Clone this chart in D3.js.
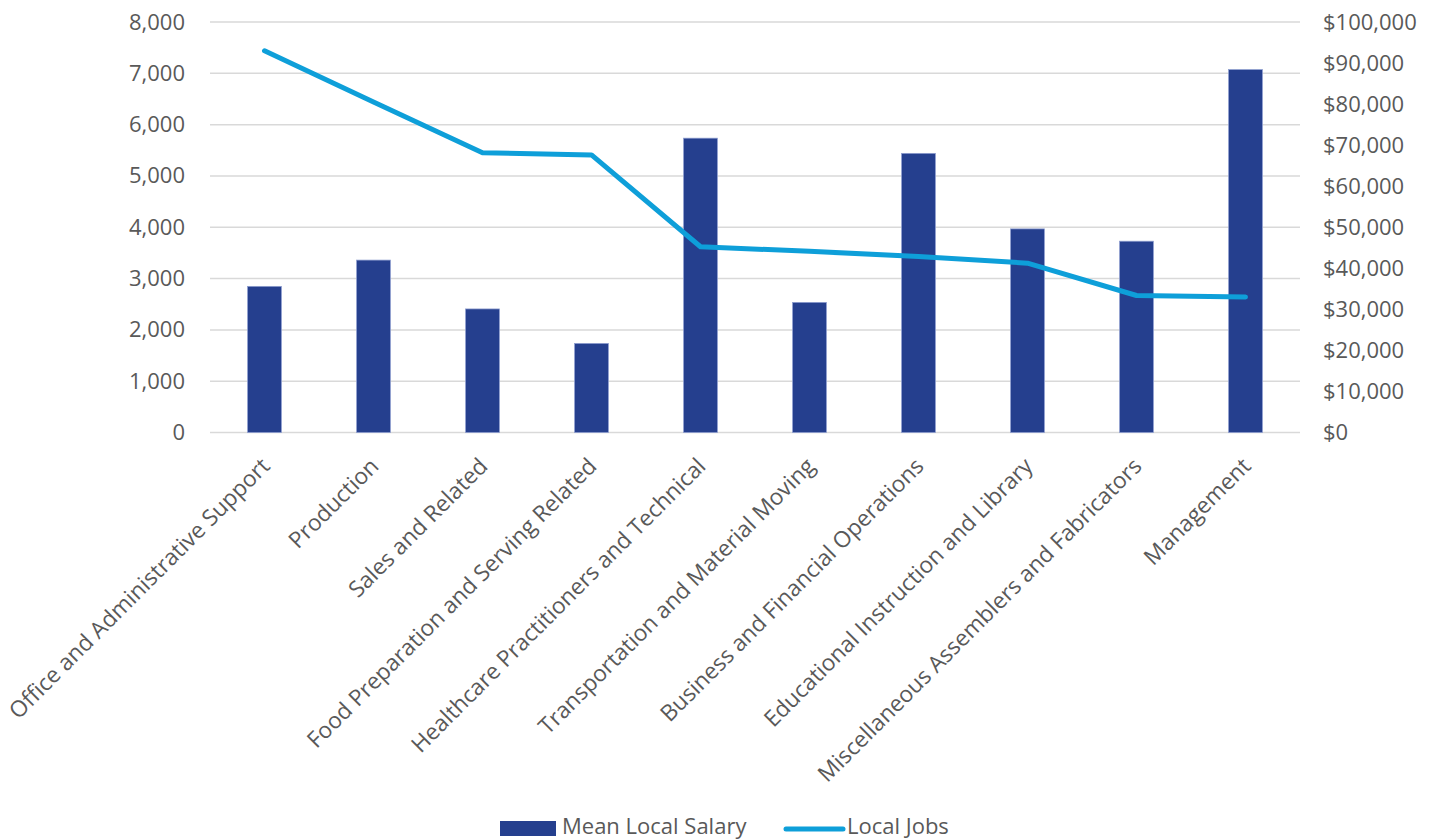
<!DOCTYPE html>
<html>
<head>
<meta charset="utf-8">
<script src="https://cdn.jsdelivr.net/npm/d3@7"></script>
<style>
  html, body { margin: 0; padding: 0; background: #fff; }
  svg text { font-family: "Open Sans", "Noto Sans", sans-serif; fill: #595959; }
</style>
</head>
<body>
<div id="chart"></div>
<script>
var categories = [
    'Office and Administrative Support',
    'Production',
    'Sales and Related',
    'Food Preparation and Serving Related',
    'Healthcare Practitioners and Technical',
    'Transportation and Material Moving',
    'Business and Financial Operations',
    'Educational Instruction and Library',
    'Miscellaneous Assemblers and Fabricators',
    'Management'
];
// bars, right axis ($)
var meanLocalSalary = [35600, 42000, 30100, 21700, 71700, 31700, 68000, 49600, 46600, 88400];
// line, left axis
var localJobs = [7440, 6440, 5450, 5410, 3620, 3530, 3430, 3300, 2670, 2640];
var leftTicks = [0, 1000, 2000, 3000, 4000, 5000, 6000, 7000, 8000];
var rightTicks = [0, 10000, 20000, 30000, 40000, 50000, 60000, 70000, 80000, 90000, 100000];
var seriesNames = ['Mean Local Salary', 'Local Jobs'];

var width = 1439, height = 840;
var margin = { top: 22, right: 139, bottom: 407.5, left: 210 };
var barColor = '#253f8e', lineColor = '#0e9fd9';

var svg = d3.select('#chart')
    .append('svg')
    .attr('width', width)
    .attr('height', height);

var x = d3.scaleBand()
    .domain(categories)
    .range([margin.left, width - margin.right])
    .paddingInner(0.69)
    .paddingOuter(0.345);
var yLeft = d3.scaleLinear().domain([0, 8000]).range([height - margin.bottom, margin.top]);
var yRight = d3.scaleLinear().domain([0, 100000]).range([height - margin.bottom, margin.top]);

// gridlines
svg.append('g')
    .selectAll('line')
    .data(leftTicks)
    .join('line')
    .attr('x1', margin.left)
    .attr('x2', width - margin.right)
    .attr('y1', function (d) { return yLeft(d); })
    .attr('y2', function (d) { return yLeft(d); })
    .attr('stroke', '#d9d9d9')
    .attr('stroke-width', 1.5);

// left axis
var leftAxis = svg.append('g')
    .attr('transform', 'translate(' + margin.left + ',0)')
    .call(d3.axisLeft(yLeft).tickValues(leftTicks).tickFormat(d3.format(',')).tickSize(0).tickPadding(25));
leftAxis.select('.domain').remove();
leftAxis.selectAll('text').style('font-size', '22px').attr('fill', '#595959');

// right axis
var rightAxis = svg.append('g')
    .attr('transform', 'translate(' + (width - margin.right) + ',0)')
    .call(d3.axisRight(yRight).tickValues(rightTicks).tickFormat(d3.format('$,')).tickSize(0).tickPadding(23));
rightAxis.select('.domain').remove();
rightAxis.selectAll('text').style('font-size', '22px').attr('fill', '#595959');

// bars
svg.append('g')
    .selectAll('rect')
    .data(categories)
    .join('rect')
    .attr('x', function (d) { return x(d); })
    .attr('y', function (d, i) { return yRight(meanLocalSalary[i]); })
    .attr('width', x.bandwidth())
    .attr('height', function (d, i) { return yRight(0) - yRight(meanLocalSalary[i]); })
    .attr('fill', barColor)
    .attr('stroke', '#8d9dcf')
    .attr('stroke-width', 0.75);

// line
var line = d3.line()
    .x(function (d, i) { return x(categories[i]) + x.bandwidth() / 2; })
    .y(function (d) { return yLeft(d); });
svg.append('path')
    .datum(localJobs)
    .attr('d', line)
    .attr('fill', 'none')
    .attr('stroke', lineColor)
    .attr('stroke-width', 5)
    .attr('stroke-linejoin', 'round')
    .attr('stroke-linecap', 'round');

// category labels
svg.append('g')
    .selectAll('text')
    .data(categories)
    .join('text')
    .attr('transform', function (d) {
        return 'translate(' + (x(d) + x.bandwidth() / 2 + 1) + ',462) rotate(-45)';
    })
    .attr('text-anchor', 'end')
    .attr('dy', '0.35em')
    .style('font-size', '22.6px')
    .text(function (d) { return d; });

// legend
var legend = svg.append('g');
legend.append('rect')
    .attr('x', 500).attr('y', 821)
    .attr('width', 56).attr('height', 15)
    .attr('fill', barColor);
legend.append('text')
    .attr('x', 562).attr('y', 834)
    .style('font-size', '22px')
    .text(seriesNames[0]);
legend.append('line')
    .attr('x1', 786).attr('x2', 843)
    .attr('y1', 829).attr('y2', 829)
    .attr('stroke', lineColor)
    .attr('stroke-width', 5)
    .attr('stroke-linecap', 'round');
legend.append('text')
    .attr('x', 847).attr('y', 834)
    .style('font-size', '22px')
    .text(seriesNames[1]);
</script>
</body>
</html>
